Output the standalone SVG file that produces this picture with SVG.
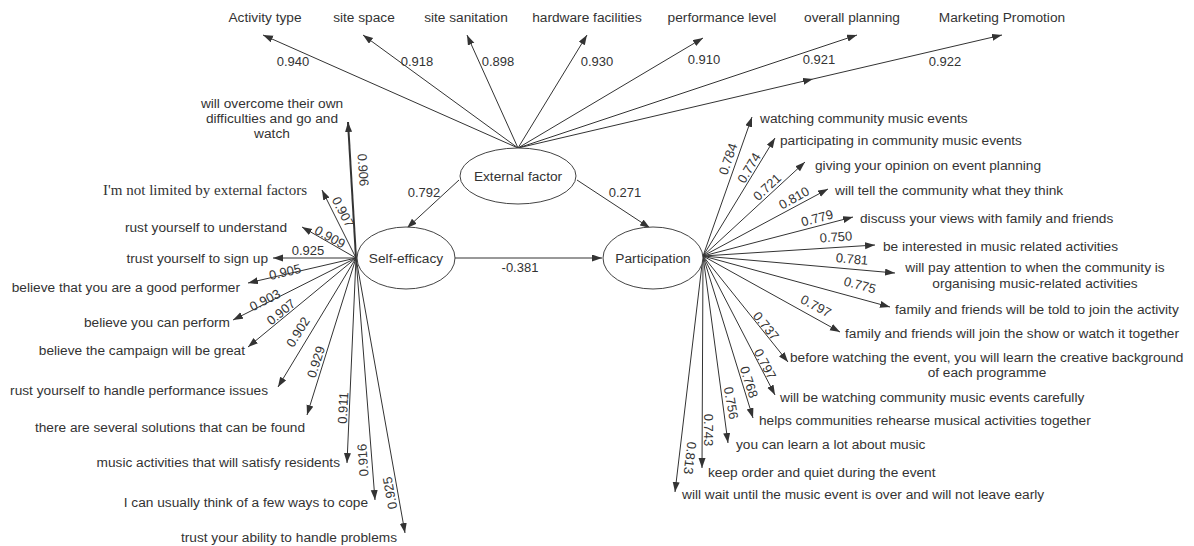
<svg xmlns="http://www.w3.org/2000/svg" width="1194" height="546" viewBox="0 0 1194 546">
<style>
.t{font-family:"Liberation Sans",Arial,sans-serif;font-size:13.7px;fill:#333}
.ts{font-family:"Liberation Serif","Times New Roman",serif;font-size:15px;fill:#333}
.n{font-family:"Liberation Sans",Arial,sans-serif;font-size:13px;fill:#333;text-anchor:middle}
.m{text-anchor:middle}
.e{text-anchor:end}
.l{stroke:#333;stroke-width:1;fill:none;marker-end:url(#ah)}
.node{fill:#fff;stroke:#444;stroke-width:1}
</style>
<defs>
<marker id="ah" markerUnits="userSpaceOnUse" markerWidth="11" markerHeight="8" refX="10" refY="3.5" orient="auto"><path d="M0,0 L10,3.5 L0,7 z" fill="#333"/></marker>
</defs>
<rect width="1194" height="546" fill="#fff"/>
<g id="connectors">
<!-- external factor indicators -->
<line class="l" x1="518" y1="148" x2="263" y2="35"/>
<line class="l" x1="518" y1="148" x2="363" y2="35"/>
<line class="l" x1="518" y1="148" x2="467" y2="35"/>
<line class="l" x1="518" y1="148" x2="587" y2="35"/>
<line class="l" x1="518" y1="148" x2="703" y2="38"/>
<line class="l" x1="518" y1="148" x2="857" y2="35"/>
<line class="l" x1="518" y1="148" x2="813" y2="79"/>
<line class="l" x1="813" y1="79" x2="1002" y2="35"/>
<!-- structural -->
<line class="l" x1="459" y1="180" x2="407" y2="228"/>
<line class="l" x1="577" y1="180" x2="650" y2="228"/>
<line class="l" x1="455" y1="258" x2="602" y2="258"/>
<!-- self-efficacy indicators -->
<line class="l" x1="356" y1="258" x2="348" y2="122" style="stroke-width:2"/>
<line class="l" x1="356" y1="258" x2="322" y2="190"/>
<line class="l" x1="356" y1="258" x2="302" y2="227"/>
<line class="l" x1="356" y1="258" x2="273" y2="258"/>
<line class="l" x1="356" y1="258" x2="248" y2="283"/>
<line class="l" x1="356" y1="258" x2="233" y2="320"/>
<line class="l" x1="356" y1="258" x2="248" y2="347"/>
<line class="l" x1="356" y1="258" x2="278" y2="387"/>
<line class="l" x1="356" y1="258" x2="307" y2="415"/>
<line class="l" x1="356" y1="258" x2="347" y2="463"/>
<line class="l" x1="356" y1="258" x2="375" y2="500"/>
<line class="l" x1="356" y1="258" x2="405" y2="533"/>
<!-- participation indicators -->
<line class="l" x1="703" y1="256" x2="752" y2="117"/>
<line class="l" x1="703" y1="256" x2="775" y2="138"/>
<line class="l" x1="703" y1="256" x2="805" y2="162"/>
<line class="l" x1="703" y1="256" x2="828" y2="189"/>
<line class="l" x1="703" y1="256" x2="853" y2="217"/>
<line class="l" x1="703" y1="256" x2="875" y2="245"/>
<line class="l" x1="703" y1="256" x2="895" y2="273"/>
<line class="l" x1="703" y1="256" x2="890" y2="307"/>
<line class="l" x1="703" y1="256" x2="840" y2="332"/>
<line class="l" x1="703" y1="256" x2="788" y2="362"/>
<line class="l" x1="703" y1="256" x2="775" y2="395"/>
<line class="l" x1="703" y1="256" x2="753" y2="418"/>
<line class="l" x1="703" y1="256" x2="728" y2="443"/>
<line class="l" x1="703" y1="256" x2="702" y2="468"/>
<line class="l" x1="703" y1="256" x2="675" y2="492"/>
</g>
<g id="loadings">
<text class="n" x="293" y="66">0.940</text>
<text class="n" x="417" y="66">0.918</text>
<text class="n" x="498" y="66">0.898</text>
<text class="n" x="597" y="66">0.930</text>
<text class="n" x="704" y="64">0.910</text>
<text class="n" x="819" y="64">0.921</text>
<text class="n" x="945" y="66">0.922</text>
<text class="n" x="424" y="197">0.792</text>
<text class="n" x="625" y="197">0.271</text>
<text class="n" x="520" y="272">-0.381</text>
<text class="n" transform="translate(363,170) rotate(86)" y="4.5">0.906</text>
<text class="n" transform="translate(343,212) rotate(62)" y="4.5">0.907</text>
<text class="n" transform="translate(330,237) rotate(29)" y="4.5">0.909</text>
<text class="n" x="308" y="255">0.925</text>
<text class="n" transform="translate(285,272) rotate(-13)" y="4.5">0.905</text>
<text class="n" transform="translate(265,300) rotate(-27)" y="4.5">0.903</text>
<text class="n" transform="translate(281,312) rotate(-39)" y="4.5">0.907</text>
<text class="n" transform="translate(298,332) rotate(-58)" y="4.5">0.902</text>
<text class="n" transform="translate(316,362) rotate(-72)" y="4.5">0.929</text>
<text class="n" transform="translate(343,408) rotate(-87)" y="4.5">0.911</text>
<text class="n" transform="translate(363,460) rotate(-94)" y="4.5">0.916</text>
<text class="n" transform="translate(390,493) rotate(-100)" y="4.5">0.925</text>
<text class="n" transform="translate(728,159) rotate(-71)" y="4.5">0.784</text>
<text class="n" transform="translate(749,168) rotate(-59)" y="4.5">0.774</text>
<text class="n" transform="translate(767,187) rotate(-43)" y="4.5">0.721</text>
<text class="n" transform="translate(794,198) rotate(-29)" y="4.5">0.810</text>
<text class="n" transform="translate(817,218) rotate(-15)" y="4.5">0.779</text>
<text class="n" transform="translate(836,237) rotate(-4)" y="4.5">0.750</text>
<text class="n" transform="translate(852,259) rotate(5)" y="4.5">0.781</text>
<text class="n" transform="translate(860,285) rotate(15)" y="4.5">0.775</text>
<text class="n" transform="translate(816,306) rotate(28)" y="4.5">0.797</text>
<text class="n" transform="translate(766,326) rotate(51)" y="4.5">0.737</text>
<text class="n" transform="translate(765,364) rotate(62)" y="4.5">0.797</text>
<text class="n" transform="translate(749,382) rotate(72)" y="4.5">0.768</text>
<text class="n" transform="translate(731,403) rotate(80)" y="4.5">0.756</text>
<text class="n" transform="translate(708,430) rotate(90)" y="4.5">0.743</text>
<text class="n" transform="translate(690,458) rotate(97)" y="4.5">0.813</text>
</g>
<g id="external-factor">
<ellipse class="node" cx="518" cy="176" rx="58" ry="28"/>
<text class="t m" x="518" y="181">External factor</text>
</g>
<g id="self-efficacy">
<ellipse class="node" cx="406" cy="258" rx="49" ry="31"/>
<text class="t m" x="406" y="263">Self-efficacy</text>
</g>
<g id="participation">
<ellipse class="node" cx="653" cy="258" rx="50" ry="31"/>
<text class="t m" x="653" y="263">Participation</text>
</g>
<g id="ef-items">
<text class="t m" x="265" y="22">Activity type</text>
<text class="t m" x="364" y="22">site space</text>
<text class="t m" x="466" y="22">site sanitation</text>
<text class="t m" x="587" y="22">hardware facilities</text>
<text class="t m" x="722" y="22">performance level</text>
<text class="t m" x="852" y="22">overall planning</text>
<text class="t m" x="1002" y="22">Marketing Promotion</text>
</g>
<g id="se-items">
<text class="t m" x="272" y="108">will overcome their own</text>
<text class="t m" x="272" y="123">difficulties and go and</text>
<text class="t m" x="272" y="138">watch</text>
<text class="ts e" x="307" y="195">I'm not limited by external factors</text>
<text class="t e" x="287" y="232">rust yourself to understand</text>
<text class="t e" x="268" y="263">trust yourself to sign up</text>
<text class="t e" x="240" y="292">believe that you are a good performer</text>
<text class="t e" x="230" y="327">believe you can perform</text>
<text class="t e" x="245" y="355">believe the campaign will be great</text>
<text class="t e" x="268" y="395">rust yourself to handle performance issues</text>
<text class="t e" x="305" y="432">there are several solutions that can be found</text>
<text class="t e" x="340" y="467">music activities that will satisfy residents</text>
<text class="t e" x="368" y="507">I can usually think of a few ways to cope</text>
<text class="t e" x="397" y="542">trust your ability to handle problems</text>
</g>
<g id="pa-items">
<text class="t" x="760" y="123">watching community music events</text>
<text class="t" x="780" y="145">participating in community music events</text>
<text class="t" x="815" y="170">giving your opinion on event planning</text>
<text class="t" x="835" y="195">will tell the community what they think</text>
<text class="t" x="860" y="223">discuss your views with family and friends</text>
<text class="t" x="883" y="251">be interested in music related activities</text>
<text class="t m" x="1035" y="272">will pay attention to when the community is</text>
<text class="t m" x="1035" y="288">organising music-related activities</text>
<text class="t" x="895" y="314">family and friends will be told to join the activity</text>
<text class="t" x="845" y="338">family and friends will join the show or watch it together</text>
<text class="t" x="790" y="362">before watching the event, you will learn the creative background</text>
<text class="t m" x="987" y="377">of each programme</text>
<text class="t" x="780" y="402">will be watching community music events carefully</text>
<text class="t" x="759" y="425">helps communities rehearse musical activities together</text>
<text class="t" x="736" y="449">you can learn a lot about music</text>
<text class="t" x="708" y="477">keep order and quiet during the event</text>
<text class="t" x="682" y="499">will wait until the music event is over and will not leave early</text>
</g>
</svg>
